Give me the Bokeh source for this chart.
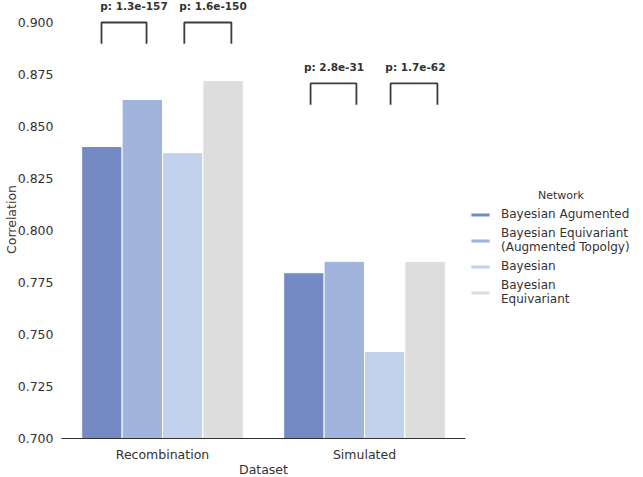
from bokeh.plotting import figure
from bokeh.models import ColumnDataSource, Legend, LegendItem, FixedTicker, NumeralTickFormatter, Range1d
from bokeh.embed import file_html
from bokeh.resources import INLINE
from bokeh.core.properties import value

# ---- data ----
datasets = ["Recombination", "Simulated"]
networks = ["Bayesian Agumented", "Bayesian Equivariant\n(Augmented Topolgy)", "Bayesian", "Bayesian\nEquivariant"]
colors = ["#758AC4", "#A0B4DC", "#C3D2EC", "#DDDDDD"]
corr_bayesian_augmented = [0.8404, 0.7797]
corr_equivariant_augmented = [0.8630, 0.7852]
corr_bayesian = [0.8374, 0.7418]
corr_equivariant = [0.8721, 0.7852]
series = [corr_bayesian_augmented, corr_equivariant_augmented, corr_bayesian, corr_equivariant]
y_ticks = [0.700, 0.725, 0.750, 0.775, 0.800, 0.825, 0.850, 0.875, 0.900]

# significance annotations (bracket x-extent in category units, bracket top, label)
brk_x0 = [-0.302, 0.108, 0.733, 1.129]
brk_x1 = [-0.079, 0.341, 0.960, 1.361]
brk_top = [0.9000, 0.9000, 0.8707, 0.8707]
brk_drop = 0.0102
brk_text = ["p: 1.3e-157", "p: 1.6e-150", "p: 2.8e-31", "p: 1.7e-62"]
brk_text_x = [-0.141, 0.250, 0.849, 1.252]
brk_text_y = [0.9077, 0.9077, 0.8784, 0.8784]

FONT = "DejaVu Sans"
TXT = "#333333"

p = figure(frame_width=404, frame_height=438, output_backend="svg", toolbar_location=None,
           x_range=Range1d(-0.5, 1.5), y_range=Range1d(0.7, 0.91058),
           min_border_left=55, min_border_right=0, min_border_top=0, min_border_bottom=0)
p.outline_line_color = None
p.grid.grid_line_color = None

width = 0.2
items = []
for i, (vals, name, col) in enumerate(zip(series, networks, colors)):
    xs = [j - 0.3 + i * width for j in range(len(datasets))]
    src = ColumnDataSource(dict(x=xs, top=vals))
    r = p.vbar(x="x", top="top", bottom=0.7, width=width, source=src,
               fill_color=col, line_color="white", line_width=1)
    items.append(LegendItem(label=name, renderers=[r]))

# brackets
bx = [[a, a, b, b] for a, b in zip(brk_x0, brk_x1)]
by = [[t - brk_drop, t, t, t - brk_drop] for t in brk_top]
p.multi_line(xs=bx, ys=by, line_color="#3c3c3c", line_width=1.8)
p.text(x=brk_text_x, y=brk_text_y, text=brk_text,
       text_font=value(FONT), text_font_size="10.5px", text_font_style="bold",
       text_color=TXT, text_align="center", text_baseline="middle")

# axes
p.xaxis.ticker = FixedTicker(ticks=[0, 1])
p.xaxis.major_label_overrides = {0: datasets[0], 1: datasets[1]}
p.xaxis.axis_label = "Dataset"
p.xaxis.axis_line_color = "#333333"
p.xaxis.axis_line_width = 1.2
p.xaxis.major_label_standoff = 8
p.xaxis.axis_label_standoff = -3

p.yaxis.ticker = FixedTicker(ticks=y_ticks)
p.yaxis.formatter = NumeralTickFormatter(format="0.000")
p.yaxis.axis_label = "Correlation"
p.yaxis.axis_line_color = None
p.yaxis.major_label_standoff = 8
p.yaxis.axis_label_standoff = -4

for ax in (p.xaxis[0], p.yaxis[0]):
    ax.major_tick_line_color = None
    ax.minor_tick_line_color = None
    ax.major_tick_out = 0
    ax.major_tick_in = 0
    ax.minor_tick_out = 0
    ax.minor_tick_in = 0
    ax.major_label_text_font = FONT
    ax.major_label_text_font_size = "12.5px"
    ax.major_label_text_color = TXT
    ax.axis_label_text_font = FONT
    ax.axis_label_text_font_size = "12.5px"
    ax.axis_label_text_font_style = "normal"
    ax.axis_label_text_color = TXT

legend = Legend(items=items, location=(3, 132), margin=0, padding=0,
                title="\u00a0" * 20 + "Network", title_text_font=FONT, title_text_font_size="11px",
                title_text_font_style="normal", title_text_color=TXT, title_standoff=5,
                border_line_color=None, background_fill_alpha=0,
                glyph_width=24, glyph_height=5, label_height=14, label_standoff=9, spacing=5,
                label_text_font=FONT, label_text_font_size="12px", label_text_color=TXT)
p.add_layout(legend, "right")

open("out.html", "w").write(file_html(p, INLINE))
